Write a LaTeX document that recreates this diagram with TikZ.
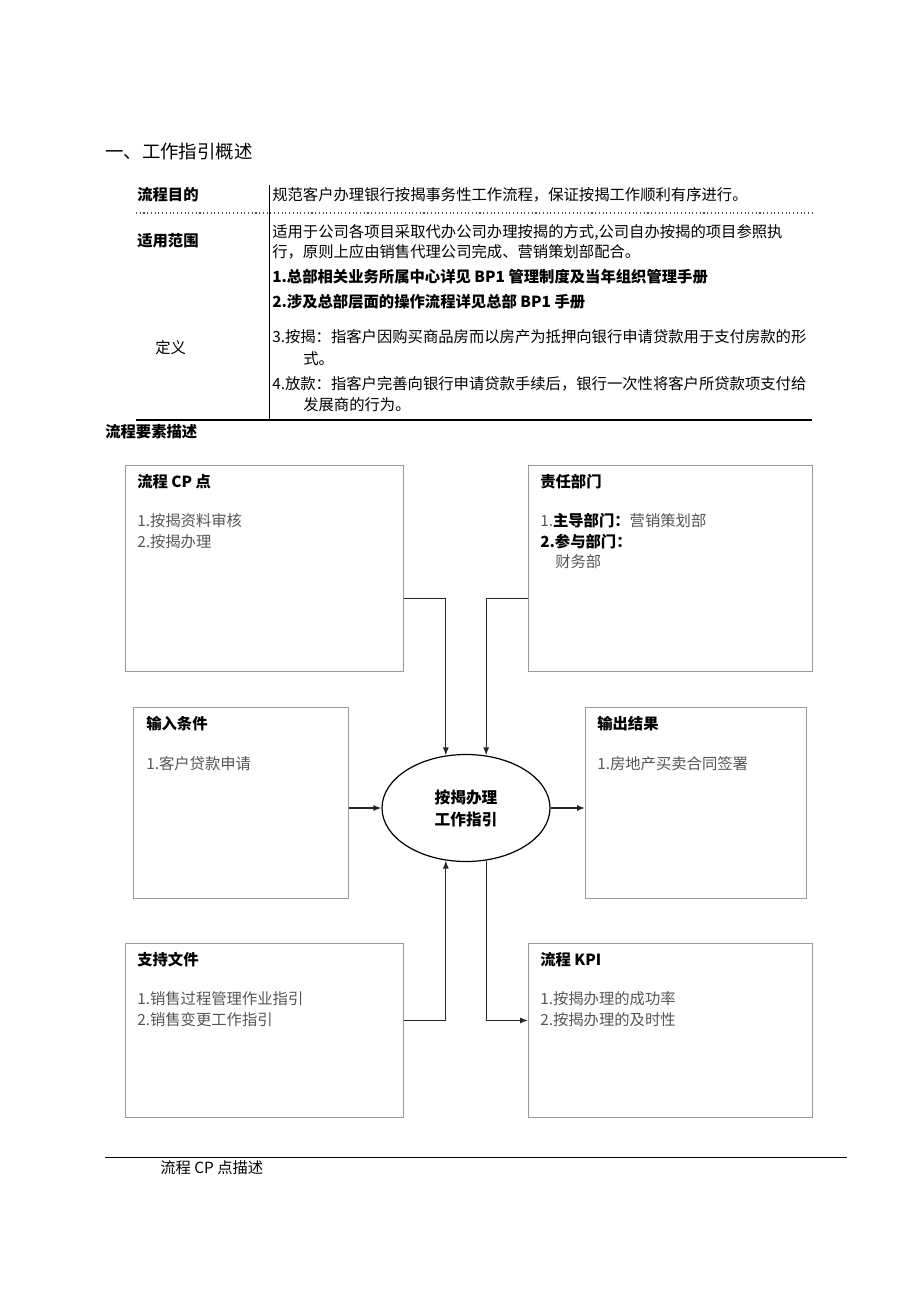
\documentclass[tikz,border=0pt]{standalone}
\usepackage{fontspec}
\setmainfont{Noto Sans CJK SC}
\usepackage{xcolor}
\usetikzlibrary{shapes.geometric, positioning, arrows.meta}

\definecolor{boxline}{HTML}{9A9A9A}
\definecolor{boxtext}{HTML}{555555}

\begin{document}
\begin{tikzpicture}[x=0.75pt, y=-0.75pt, >={Latex[length=6pt,width=4.5pt]},
    every node/.style={inner sep=0pt, font=\fontsize{11.5}{14}\selectfont},
    txt/.style={anchor=west},
    head/.style={anchor=west, font=\fontsize{11.5}{14}\selectfont\bfseries},
    item/.style={anchor=west, text=boxtext},
    box/.style={draw=boxline, line width=0.7pt, anchor=north west},
    flow/.style={->, line width=0.9pt, black!85}]
    % Seitenrahmen
    \useasboundingbox (0,0) rectangle (920,1301);

    % Überschrift
    \node[anchor=west, font=\fontsize{13.8}{16}\selectfont] (title) at (105,152) {一、工作指引概述};

    % Tabelle
    \draw[line width=0.7pt] (269,185) -- (269,420);
    \draw[dotted, line width=0.8pt, black!70] (136,213) -- (812,213);
    \draw[line width=0.8pt] (136,420) -- (812,420);
    \node[head] (aim) at (137,195) {流程目的};
    \node[txt] (aimtxt) at (272,195) {规范客户办理银行按揭事务性工作流程，保证按揭工作顺利有序进行。};
    \node[head] (scope) at (137,241) {适用范围};
    \node[txt] (scopea) at (272,232) {适用于公司各项目采取代办公司办理按揭的方式,公司自办按揭的项目参照执};
    \node[txt] (scopeb) at (272,252) {行，原则上应由销售代理公司完成、营销策划部配合。};
    \node[head] (defa) at (272,277) {1.总部相关业务所属中心详见 BP1 管理制度及当年组织管理手册};
    \node[head] (defb) at (272,302) {2.涉及总部层面的操作流程详见总部 BP1 手册};
    \node[txt] (define) at (155,348) {定义};
    \node[txt] (defc) at (272,337) {3.按揭：指客户因购买商品房而以房产为抵押向银行申请贷款用于支付房款的形};
    \node[txt] (defcc) at (303,359) {式。};
    \node[txt] (defd) at (272,384) {4.放款：指客户完善向银行申请贷款手续后，银行一次性将客户所贷款项支付给};
    \node[txt] (defdd) at (303,405) {发展商的行为。};
    \node[head] (elements) at (105,432) {流程要素描述};

    % Kästen
    \node[box, minimum width=208.5pt, minimum height=154.5pt] (cp) at (125,465) {};
    \node[box, minimum width=213pt, minimum height=154.5pt] (duty) at (528,465) {};
    \node[box, minimum width=161.25pt, minimum height=143.25pt] (inbox) at (133,707) {};
    \node[box, minimum width=165.75pt, minimum height=143.25pt] (outbox) at (585,707) {};
    \node[box, minimum width=208.5pt, minimum height=130.5pt] (sup) at (125,943) {};
    \node[box, minimum width=213pt, minimum height=130.5pt] (kpi) at (528,943) {};
    \node[draw, ellipse, line width=0.9pt, minimum width=126pt, minimum height=80.25pt,
          align=center, font=\fontsize{11.8}{16.5}\selectfont\bfseries] (core) at (466,808) {按揭办理\\工作指引};

    % Texte in den Kästen
    \node[head] (cphead) at (137,482) {流程 CP 点};
    \node[item] (cpa) at (137,521) {1.按揭资料审核};
    \node[item] (cpb) at (137,542) {2.按揭办理};

    \node[head] (dutyhead) at (540,482) {责任部门};
    \node[item] (dutya) at (540,521) {1.\textbf{\color{black}主导部门：}营销策划部};
    \node[head] (dutyb) at (540,542) {2.参与部门：};
    \node[item] (dutyc) at (555,562) {财务部};

    \node[head] (inhead) at (146,724) {输入条件};
    \node[item] (ina) at (146,764) {1.客户贷款申请};

    \node[head] (outhead) at (597,724) {输出结果};
    \node[item] (outa) at (597,764) {1.房地产买卖合同签署};

    \node[head] (suphead) at (137,960) {支持文件};
    \node[item] (supa) at (137,999) {1.销售过程管理作业指引};
    \node[item] (supb) at (137,1020) {2.销售变更工作指引};

    \node[head] (kpihead) at (540,960) {流程 KPI};
    \node[item] (kpia) at (540,999) {1.按揭办理的成功率};
    \node[item] (kpib) at (540,1020) {2.按揭办理的及时性};

    % Verbindungen
    \draw[flow] (cp.east) ++(0,30) -| (core.111);
    \draw[flow] (duty.west) ++(0,30) -| (core.69);
    \draw[flow] (inbox.east |- core.west) -- (core.west);
    \draw[flow] (core.east) -- (core.east -| outbox.west);
    \draw[flow] (sup.east) ++(0,-10) -| (core.249);
    \draw[flow] (core.291) |- ([yshift=7.5pt]kpi.west);

    % Fußzeile
    \draw[line width=0.7pt] (105,1157) -- (847,1157);
    \node[txt] (cpdesc) at (160,1168) {流程 CP 点描述};
\end{tikzpicture}
\end{document}
